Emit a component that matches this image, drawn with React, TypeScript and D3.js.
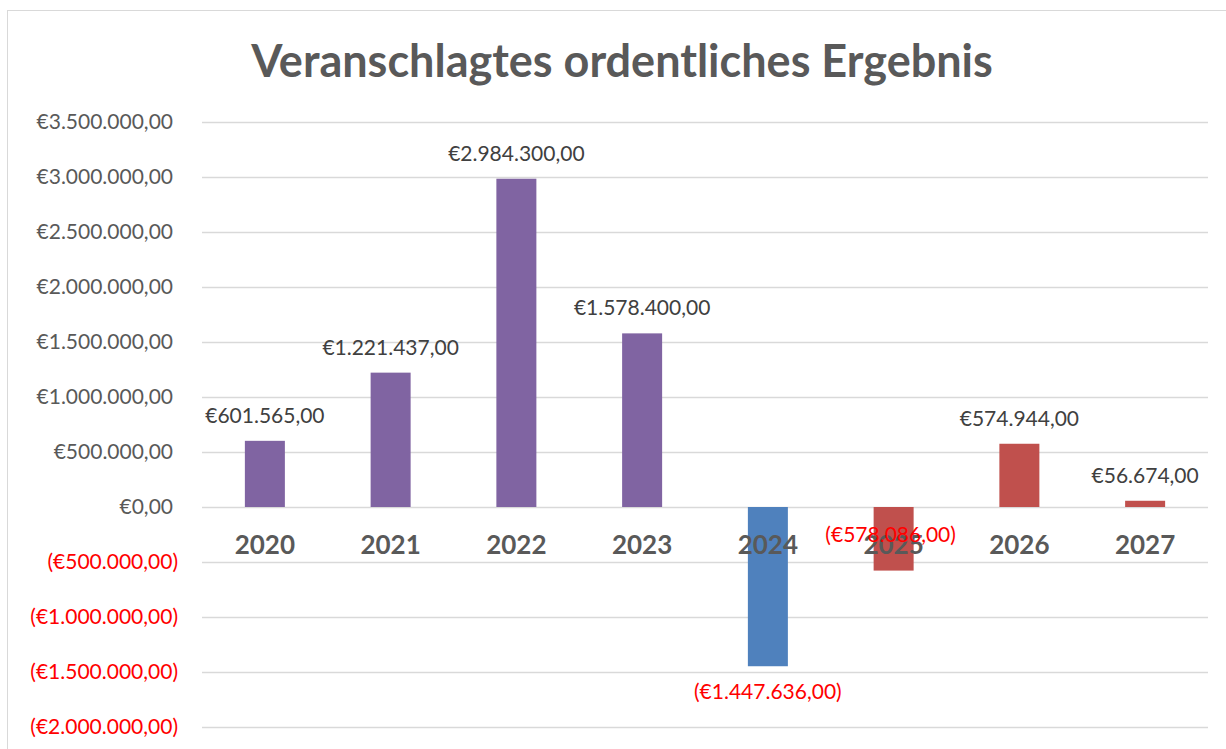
import React, { useEffect, useRef } from "react";
import * as d3 from "d3";

// values
const years = ["2020", "2021", "2022", "2023", "2024", "2025", "2026", "2027"];
const values = [601565, 1221437, 2984300, 1578400, -1447636, -578086, 574944, 56674];
const barColors = ["#8064A2", "#8064A2", "#8064A2", "#8064A2", "#4F81BD", "#C0504D", "#C0504D", "#C0504D"];
const yTicks = [3500000, 3000000, 2500000, 2000000, 1500000, 1000000, 500000, 0, -500000, -1000000, -1500000, -2000000];

const W = 1226, H = 749;
const FONT = "Lato, 'Open Sans', sans-serif";

const de = d3.formatLocale({ decimal: ",", thousands: ".", grouping: [3], currency: ["€", ""] });
const fmtNum = de.format(",.2f");
function euro(v: number) {
	return v < 0 ? "(€" + fmtNum(-v) + ")" : "€" + fmtNum(v);
}

export default function App() {
	const ref = useRef<SVGSVGElement>(null);

	useEffect(() => {
		const svg = d3.select(ref.current);
		svg.selectAll("*").remove();

		var x = d3.scaleBand().domain(years).range([202, 1208]);
		var y = d3.scaleLinear().domain([-2000000, 3500000]).range([727, 122]);

		// chart border
		svg.append("rect")
			.attr("x", 7.5).attr("y", 10.5)
			.attr("width", 1300).attr("height", 800)
			.attr("fill", "#fff").attr("stroke", "#d9d9d9");

		svg.append("text")
			.attr("x", 622).attr("y", 77)
			.attr("text-anchor", "middle")
			.style("font-family", FONT).style("font-weight", 700).style("font-size", "45px")
			.attr("fill", "#595959")
			.text("Veranschlagtes ordentliches Ergebnis");

		// gridlines
		svg.append("g").selectAll("line").data(yTicks).enter().append("line")
			.attr("x1", 202).attr("x2", 1208)
			.attr("y1", function (d) { return Math.round(y(d)) + 0.5; })
			.attr("y2", function (d) { return Math.round(y(d)) + 0.5; })
			.attr("stroke", "#d9d9d9").attr("stroke-width", 1.5);

		// tick labels (positives leave room for the closing paren, as in Excel)
		svg.append("g").selectAll("text").data(yTicks).enter().append("text")
			.attr("x", function (d) { return d < 0 ? 178 : 173; })
			.attr("y", function (d) { return y(d) + 7; })
			.attr("text-anchor", "end")
			.style("font-family", FONT).style("font-size", "21px")
			.attr("fill", function (d) { return d < 0 ? "#ff0000" : "#595959"; })
			.text(euro);

		var bw = 40;
		// bars
		svg.append("g").selectAll("rect").data(values).enter().append("rect")
			.attr("x", function (d, i) { return x(years[i])! + x.bandwidth() / 2 - bw / 2; })
			.attr("y", function (d) { return y(Math.max(0, d)); })
			.attr("width", bw)
			.attr("height", function (d) { return Math.abs(y(d) - y(0)); })
			.attr("fill", function (d, i) { return barColors[i]; });

		// category labels
		svg.append("g").selectAll("text").data(years).enter().append("text")
			.attr("x", function (d) { return x(d)! + x.bandwidth() / 2; })
			.attr("y", y(0) + 47)
			.attr("text-anchor", "middle")
			.style("font-family", FONT).style("font-weight", 700).style("font-size", "26px")
			.attr("fill", "#595959")
			.text(function (d) { return d; });

		// data labels
		svg.append("g").selectAll("text").data(values).enter().append("text")
			.attr("x", function (d, i) { return x(years[i])! + x.bandwidth() / 2 - (i == 5 ? 3 : 0); })
			.attr("y", function (d, i) {
				if (d >= 0) return y(d) - 18;
				if (i == 5) return y(d) - 29; // Excel placed this one inside
				return y(d) + 33;
			})
			.attr("text-anchor", "middle")
			.style("font-family", FONT).style("font-size", "21px")
			.attr("fill", function (d) { return d < 0 ? "#ff0000" : "#404040"; })
			.text(euro);
	}, []);

	return (
		<svg ref={ref} width={W} height={H} style={{ position: "absolute", left: 0, top: 0 }} />
	);
}
